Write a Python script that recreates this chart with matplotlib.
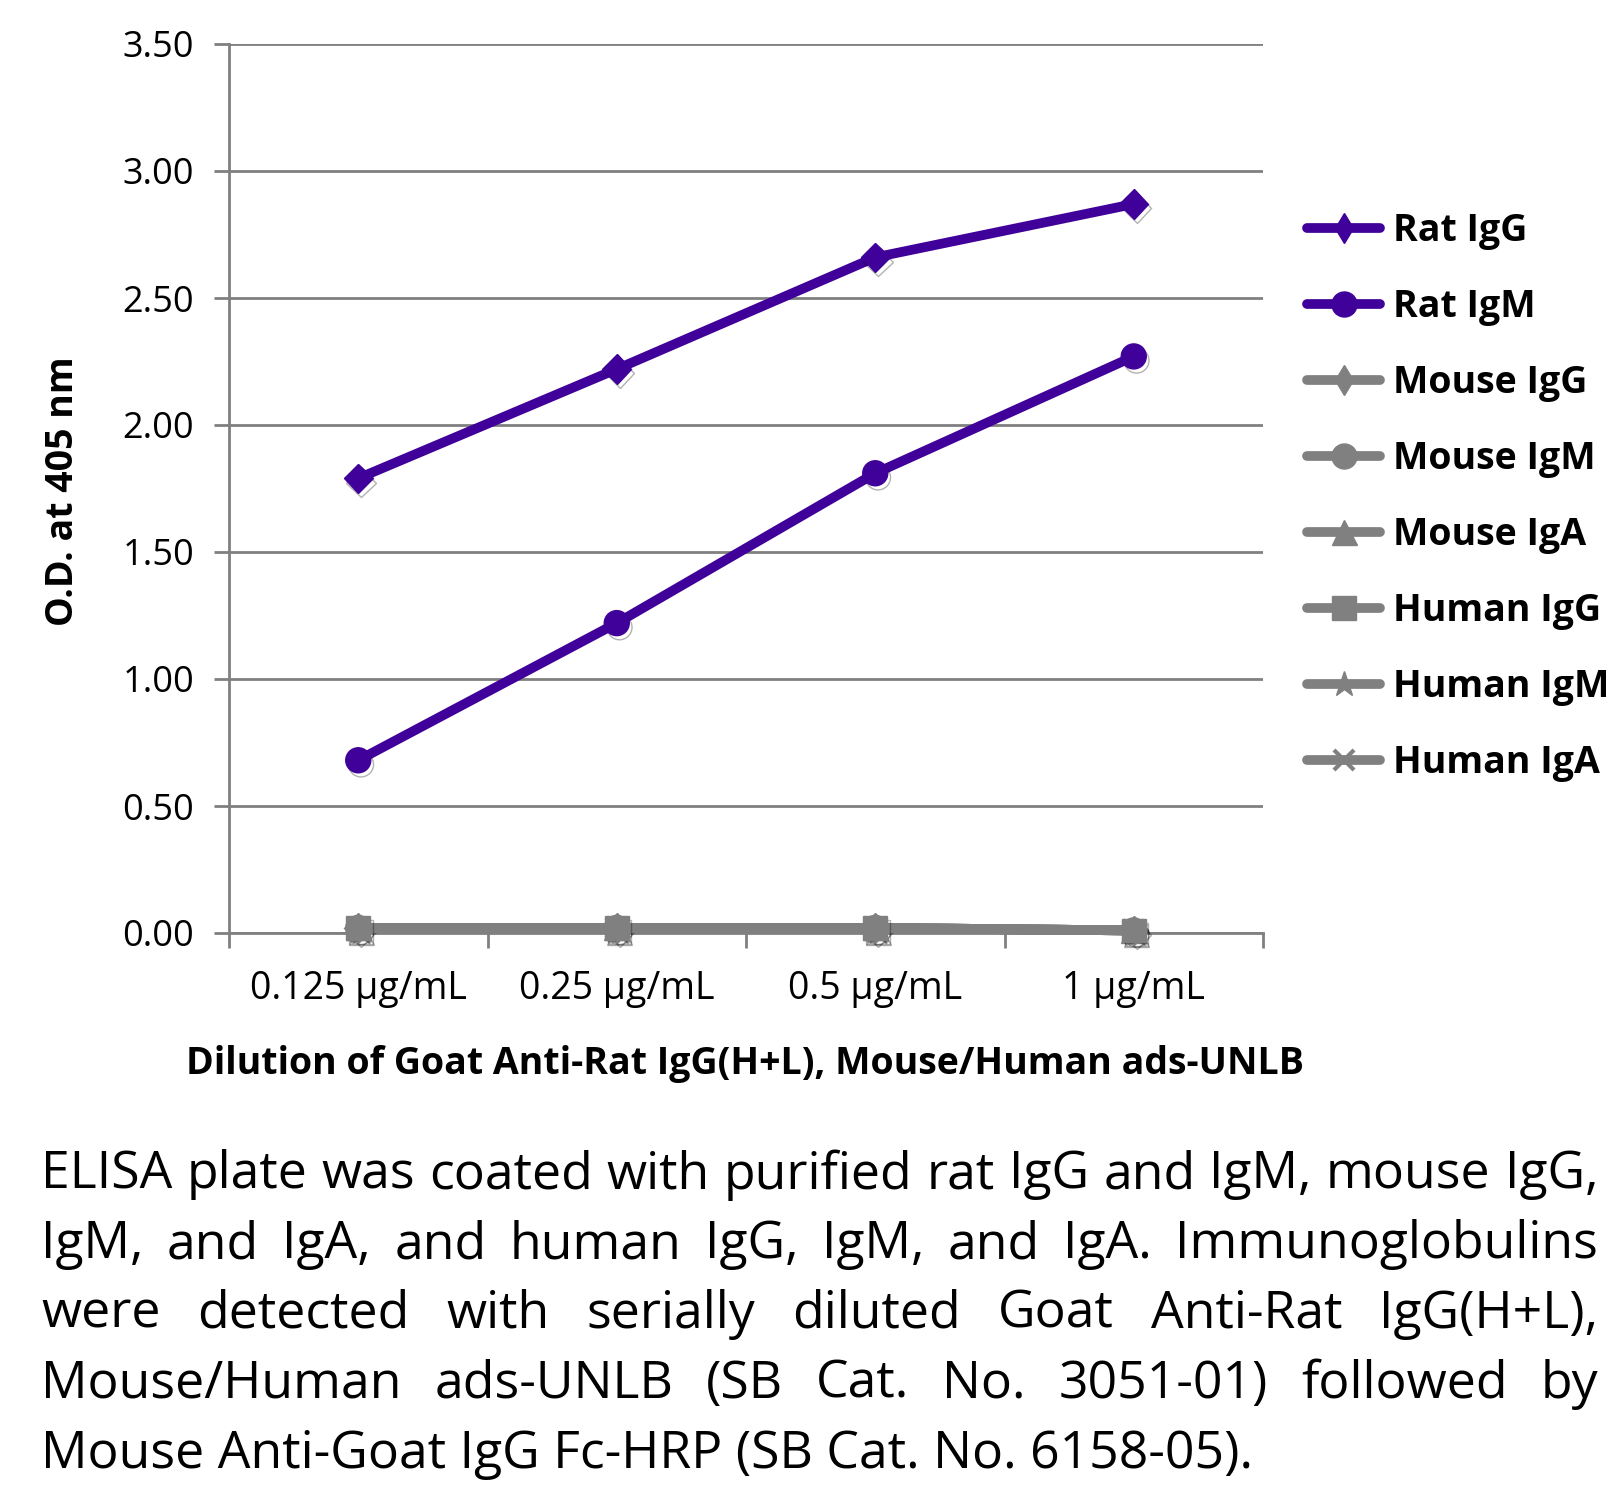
import matplotlib
matplotlib.use("Agg")
import matplotlib.pyplot as plt
import matplotlib.patheffects as pe
from matplotlib.lines import Line2D

# ---------------- data ----------------
doses = ["0.125 µg/mL", "0.25 µg/mL", "0.5 µg/mL", "1 µg/mL"]
rat_igg = [1.79, 2.22, 2.66, 2.87]
rat_igm = [0.68, 1.22, 1.81, 2.27]
mouse_igg = [0.02, 0.02, 0.02, 0.01]
mouse_igm = [0.02, 0.02, 0.02, 0.01]
mouse_iga = [0.02, 0.02, 0.02, 0.01]
human_igg = [0.02, 0.02, 0.02, 0.01]
human_igm = [0.02, 0.02, 0.02, 0.01]
human_iga = [0.02, 0.02, 0.02, 0.01]

series_names = ["Rat IgG", "Rat IgM", "Mouse IgG", "Mouse IgM", "Mouse IgA",
                "Human IgG", "Human IgM", "Human IgA"]
series_vals = [rat_igg, rat_igm, mouse_igg, mouse_igm, mouse_iga,
               human_igg, human_igm, human_iga]

caption_lines = [
    "ELISA plate was coated with purified rat IgG and IgM, mouse IgG,",
    "IgM, and IgA, and human IgG, IgM, and IgA.  Immunoglobulins",
    "were detected with serially diluted Goat Anti-Rat IgG(H+L),",
    "Mouse/Human ads-UNLB (SB Cat. No. 3051-01) followed by",
    "Mouse Anti-Goat IgG Fc-HRP (SB Cat. No. 6158-05).",
]

PURPLE = "#40009a"
GREY = "#808080"
FONT = ["Open Sans", "DejaVu Sans"]
plt.rcParams["font.family"] = FONT

W, H = 1620, 1489
fig = plt.figure(figsize=(W / 100, H / 100), dpi=100)

# axes box in pixels: left 229, right 1263, top 44, bottom 933
ax = fig.add_axes([229 / W, 1 - 933 / H, (1263 - 229) / W, (933 - 44) / H])

styles = [
    dict(color=PURPLE, marker="D", ms=15),
    dict(color=PURPLE, marker="o", ms=18),
    dict(color=GREY, marker="D", ms=15),
    dict(color=GREY, marker="o", ms=18),
    dict(color=GREY, marker="^", ms=18),
    dict(color=GREY, marker="s", ms=17),
    dict(color=GREY, marker="*", ms=19),
    dict(color=GREY, marker="x", ms=15, mew=3),
]
LW = 7

x = list(range(len(doses)))
shadow = [pe.SimpleLineShadow(offset=(2, -3), alpha=0.3, shadow_color="black"), pe.Normal()]
# grey ones first, human IgG squares on top of the greys, purple on top
order = [2, 3, 4, 6, 7, 5, 0, 1]
for k, i in enumerate(order):
    st = styles[i]
    ax.plot(x, series_vals[i], color=st["color"], lw=LW, solid_capstyle="round",
            zorder=3 + k * 0.1, clip_on=False)
    ax.plot(x, series_vals[i], ls="none", marker=st["marker"], ms=st["ms"],
            mew=st.get("mew", 1), mec=st["color"], mfc=st["color"],
            zorder=3.05 + k * 0.1, clip_on=False, path_effects=shadow)

ax.set_xlim(-0.5, 3.5)
ax.set_ylim(0, 3.5)
ax.set_yticks([0, 0.5, 1, 1.5, 2, 2.5, 3, 3.5])
ax.set_yticklabels(["%.2f" % v for v in ax.get_yticks()])
ax.set_xticks([-0.5, 0.5, 1.5, 2.5, 3.5])
ax.set_xticklabels([])
ax.set_xticks(x, minor=True)
ax.set_xticklabels(doses, minor=True)

ax.grid(axis="y", color=GREY, lw=2)
ax.set_axisbelow(True)
for s in ["top", "right"]:
    ax.spines[s].set_visible(False)
for s in ["left", "bottom"]:
    ax.spines[s].set_color(GREY)
    ax.spines[s].set_linewidth(2)

ax.tick_params(axis="y", length=11, width=2, color=GREY, labelsize=26, pad=14)
ax.tick_params(axis="x", which="major", length=11, width=2, color=GREY)
ax.tick_params(axis="x", which="minor", length=0, labelsize=27, pad=27)

fig.text(63 / W, 1 - 491 / H, "O.D. at 405 nm", rotation=90, ha="center", va="center",
         fontsize=27, fontweight="bold")
fig.text(745 / W, 1 - 1064 / H, "Dilution of Goat Anti-Rat IgG(H+L), Mouse/Human ads-UNLB",
         ha="center", va="center", fontsize=27, fontweight="bold")

# legend
leg_handles = []
for i, name in enumerate(series_names):
    st = styles[i]
    mk = "d" if st["marker"] == "D" else st["marker"]
    leg_handles.append(Line2D([], [], color=st["color"], lw=LW, marker=mk, ms=st["ms"],
                              mew=st.get("mew", 1), mec=st["color"], mfc=st["color"],
                              solid_capstyle="round"))
fig.legend(leg_handles, series_names, loc="upper left",
           bbox_to_anchor=(1307 / W, 1 - 212 / H), frameon=False,
           prop=dict(family=FONT, weight="bold", size=27),
           handlelength=1.95, handletextpad=0.35, labelspacing=1.015,
           borderaxespad=0, borderpad=0)

# caption, justified; font size chosen so the first line fits with normal spaces
left_px, right_px = 41, 1598
line_y = [1175, 1245, 1314, 1384, 1454]
renderer = fig.canvas.get_renderer()
base = 30
probe = [fig.text(0, 0, wd, fontsize=base) for wd in caption_lines[0].split()]
wsum = sum(t.get_window_extent(renderer).width for t in probe)
for t in probe:
    t.remove()
n_gap = len(probe) - 1
cap_size = base * (right_px - left_px) / (wsum + n_gap * 0.27 * base * 100 / 72)

for li, line in enumerate(caption_lines):
    words = line.split()
    y = 1 - line_y[li] / H
    if li == len(caption_lines) - 1:
        fig.text(left_px / W, y, line, fontsize=cap_size, ha="left", va="center")
        continue
    texts = []
    widths = []
    for wd in words:
        t = fig.text(0, y, wd, fontsize=cap_size, ha="left", va="center")
        texts.append(t)
        widths.append(t.get_window_extent(renderer).width)
    gap = (right_px - left_px - sum(widths)) / (len(words) - 1)
    xpos = left_px
    for t, wdt in zip(texts, widths):
        t.set_x(xpos / W)
        xpos += wdt + gap

fig.savefig("out.png", dpi=100)
